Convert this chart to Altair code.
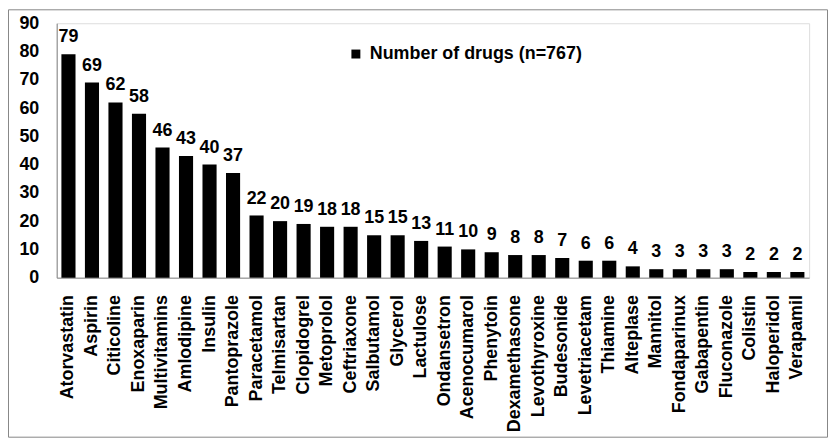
import altair as alt
import pandas as pd

drugs = ["Atorvastatin", "Aspirin", "Citicoline", "Enoxaparin", "Multivitamins",
         "Amlodipine", "Insulin", "Pantoprazole", "Paracetamol", "Telmisartan",
         "Clopidogrel", "Metoprolol", "Ceftriaxone", "Salbutamol", "Glycerol",
         "Lactulose", "Ondansetron", "Acenocumarol", "Phenytoin", "Dexamethasone",
         "Levothyroxine", "Budesonide", "Levetriacetam", "Thiamine", "Alteplase",
         "Mannitol", "Fondaparinux", "Gabapentin", "Fluconazole", "Colistin",
         "Haloperidol", "Verapamil"]
counts = [79, 69, 62, 58, 46, 43, 40, 37, 22, 20, 19, 18, 18, 15, 15, 13, 11, 10,
          9, 8, 8, 7, 6, 6, 4, 3, 3, 3, 3, 2, 2, 2]
series_name = "Number of drugs (n=767)"
y_ticks = [0, 10, 20, 30, 40, 50, 60, 70, 80, 90]

df = pd.DataFrame({"drug": drugs, "count": counts, "series": series_name})

FONT = "Liberation Sans"
FS = 18
W, H = 757, 256
PAD = {"left": 49, "top": 14, "right": 20, "bottom": 162}

x_enc = alt.X("drug:N", sort=None, title=None,
              scale=alt.Scale(paddingInner=0.4, paddingOuter=0.2),
              axis=alt.Axis(labelAngle=-90, labelAlign="right", labelBaseline="middle",
                            labelFont=FONT, labelFontSize=FS, labelFontWeight="bold",
                            labelColor="black", labelPadding=17, ticks=False,
                            labelOverlap=False,
                            domainColor="#868686", labelLimit=300))
y_enc = alt.Y("count:Q", title=None,
              scale=alt.Scale(domain=[0, 90], nice=False),
              axis=alt.Axis(values=y_ticks, grid=False, ticks=False,
                            labelOverlap=False,
                            labelFont=FONT, labelFontSize=FS, labelFontWeight="bold",
                            labelColor="black", labelPadding=18,
                            domainColor="#868686"))

base = alt.Chart(df)

bars = base.mark_bar(color="black").encode(
    x=x_enc, y=y_enc,
    color=alt.Color("series:N", scale=alt.Scale(range=["black"]),
                    legend=alt.Legend(orient="none", legendX=292, legendY=22, title=None,
                                      symbolType="square", symbolSize=81,
                                      symbolStrokeWidth=0, labelOffset=5,
                                      labelFont=FONT, labelFontSize=FS,
                                      labelFontWeight="bold", labelColor="black",
                                      labelLimit=400)),
)

labels = base.mark_text(font=FONT, fontSize=FS, fontWeight="bold", color="black",
                        baseline="alphabetic", dy=-12).encode(
    x=x_enc, y=y_enc, text="count:Q")

border = alt.Chart(pd.DataFrame({"a": [0]})).mark_rect(
    fill=None, stroke="#868686", strokeWidth=1).encode(
    x=alt.value(-48.5), x2=alt.value(W + PAD["right"] - 1.5),
    y=alt.value(-13.5), y2=alt.value(H + PAD["bottom"] - 1.5))

chart = alt.layer(border, bars, labels).properties(
    width=W, height=H, padding=PAD, autosize="none"
).configure_view(stroke=None).configure(background="white")

chart.save("out.html", embed_options={"renderer": "svg", "actions": False})
